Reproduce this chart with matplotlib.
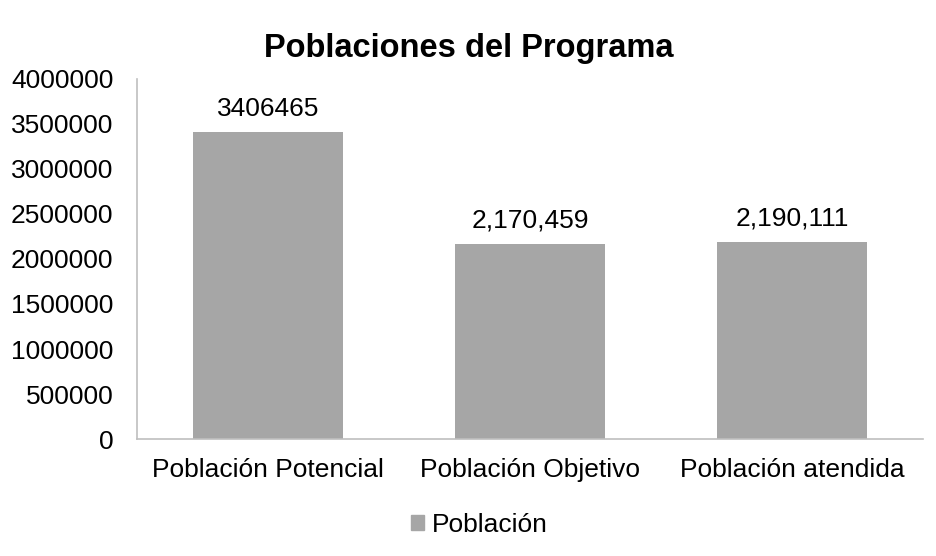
import matplotlib.pyplot as plt
from matplotlib.patches import Patch

categories = ["Población Potencial", "Población Objetivo", "Población atendida"]
values = [3406465, 2170459, 2190111]
value_labels = ["3406465", "2,170,459", "2,190,111"]
yticks = [0, 500000, 1000000, 1500000, 2000000, 2500000, 3000000, 3500000, 4000000]

plt.rcParams['font.family'] = ['Liberation Sans', 'DejaVu Sans']
bar_color = "#a6a6a6"
axis_color = "#bfbfbf"

fig = plt.figure(figsize=(9.37, 5.56), dpi=100)
ax = fig.add_axes([0.1462, 0.2104, 0.8388, 0.6476])

x = range(len(categories))
bars = ax.bar(x, values, width=0.57, color=bar_color)
for b, lab in zip(bars, value_labels):
    ax.annotate(lab, (b.get_x() + b.get_width() / 2, b.get_height()),
                xytext=(0, 8), textcoords="offset points",
                ha="center", va="bottom", fontsize=19)

ax.set_xlim(-0.5, len(categories) - 0.5)
ax.set_ylim(0, 4000000)
ax.set_yticks(yticks)
ax.set_yticklabels([str(t) for t in yticks], fontsize=19)
ax.set_xticks(list(x))
ax.set_xticklabels(categories, fontsize=19)
ax.tick_params(axis="x", length=0, pad=14)
ax.tick_params(axis="y", length=0, pad=17)

for s in ["top", "right"]:
    ax.spines[s].set_visible(False)
for s in ["left", "bottom"]:
    ax.spines[s].set_color(axis_color)
    ax.spines[s].set_linewidth(1.2)

fig.suptitle("Poblaciones del Programa", fontsize=23.5, fontweight="bold", y=0.94)

fig.legend(handles=[Patch(color=bar_color, label="Población")],
           loc="center", bbox_to_anchor=(0.512, 0.056), frameon=False,
           fontsize=19, handlelength=0.5, handleheight=0.5, handletextpad=0.3)

fig.savefig("out.png", dpi=100)
